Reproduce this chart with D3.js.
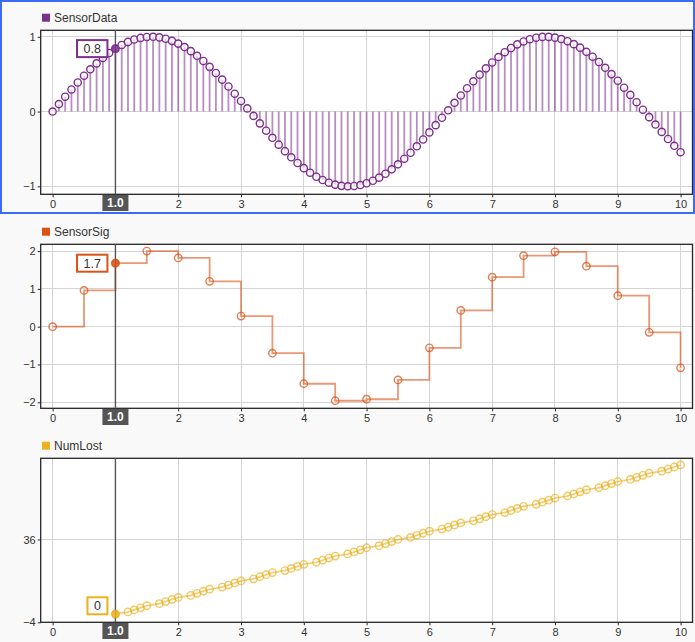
<!DOCTYPE html>
<html>
<head>
<meta charset="utf-8">
<script src="https://cdn.jsdelivr.net/npm/d3@7"></script>
<style>
html,body{margin:0;padding:0;background:#f9f9f9;}
svg{display:block;font-family:"Liberation Sans",Arial,sans-serif;}
</style>
</head>
<body>
<svg id="chart" width="695" height="642"></svg>
<script>
// ---- data ----
const sensorTime = [0,0.1,0.2,0.3,0.4,0.5,0.6,0.7,0.8,0.9,1.0,1.1,1.2,1.3,1.4,1.5,1.6,1.7,1.8,1.9,2.0,2.1,2.2,2.3,2.4,2.5,2.6,2.7,2.8,2.9,3.0,3.1,3.2,3.3,3.4,3.5,3.6,3.7,3.8,3.9,4.0,4.1,4.2,4.3,4.4,4.5,4.6,4.7,4.8,4.9,5.0,5.1,5.2,5.3,5.4,5.5,5.6,5.7,5.8,5.9,6.0,6.1,6.2,6.3,6.4,6.5,6.6,6.7,6.8,6.9,7.0,7.1,7.2,7.3,7.4,7.5,7.6,7.7,7.8,7.9,8.0,8.1,8.2,8.3,8.4,8.5,8.6,8.7,8.8,8.9,9.0,9.1,9.2,9.3,9.4,9.5,9.6,9.7,9.8,9.9,10.0];
const sensorData = [0,0.100,0.199,0.296,0.389,0.479,0.565,0.644,0.717,0.783,0.842,0.891,0.932,0.964,0.985,0.998,1.000,0.992,0.974,0.946,0.909,0.863,0.808,0.746,0.676,0.598,0.516,0.427,0.335,0.239,0.141,0.042,-0.058,-0.158,-0.256,-0.351,-0.443,-0.530,-0.612,-0.688,-0.757,-0.818,-0.872,-0.916,-0.952,-0.978,-0.994,-1.000,-0.996,-0.983,-0.959,-0.926,-0.884,-0.832,-0.773,-0.706,-0.631,-0.551,-0.465,-0.374,-0.279,-0.182,-0.083,0.017,0.117,0.215,0.312,0.405,0.494,0.578,0.657,0.729,0.794,0.850,0.899,0.938,0.968,0.988,0.999,0.999,0.989,0.970,0.941,0.902,0.855,0.799,0.734,0.663,0.585,0.501,0.412,0.319,0.223,0.125,0.025,-0.075,-0.174,-0.272,-0.367,-0.458,-0.544];

const sigTime = [0,0.5,1.0,1.5,2.0,2.5,3.0,3.5,4.0,4.5,5.0,5.5,6.0,6.5,7.0,7.5,8.0,8.5,9.0,9.5,10.0];
const sigValues = [0,0.96,1.68,2.0,1.82,1.2,0.28,-0.7,-1.51,-1.96,-1.92,-1.41,-0.56,0.43,1.31,1.88,1.98,1.6,0.82,-0.15,-1.09];

const lostTime = [1.0,1.2,1.3,1.4,1.5,1.7,1.8,1.9,2.0,2.2,2.3,2.4,2.5,2.7,2.8,2.9,3.0,3.2,3.3,3.4,3.5,3.7,3.8,3.9,4.0,4.2,4.3,4.4,4.5,4.7,4.8,4.9,5.0,5.2,5.3,5.4,5.5,5.7,5.8,5.9,6.0,6.2,6.3,6.4,6.5,6.7,6.8,6.9,7.0,7.2,7.3,7.4,7.5,7.7,7.8,7.9,8.0,8.2,8.3,8.4,8.5,8.7,8.8,8.9,9.0,9.2,9.3,9.4,9.5,9.7,9.8,9.9,10.0];
const lostValues = [0,1,2,3,4,5,6,7,8,9,10,11,12,13,14,15,16,17,18,19,20,21,22,23,24,25,26,27,28,29,30,31,32,33,34,35,36,37,38,39,40,41,42,43,44,45,46,47,48,49,50,51,52,53,54,55,56,57,58,59,60,61,62,63,64,65,66,67,68,69,70,71,72];

const xTicks = [0,1,2,3,4,5,6,7,8,9,10];
const dataTicks = [-1,0,1];
const sigTicks = [-2,-1,0,1,2];
const lostTicks = [-4,36];
const seriesNames = ["SensorData","SensorSig","NumLost"];
const seriesColors = ["#7E2F8E","#D95319","#EDB120"];
const cursorTime = 1.0;

// ---- layout ----
const W = 695, panelH = 214;
const plotL = 40.7, plotR = 692.5, plotT = 30.3, plotB = 194.3;
const svg = d3.select("#chart");

const x = d3.scaleLinear().domain([-0.19, 10.19]).range([plotL, plotR]);

const panels = [
  {name: seriesNames[0], color: seriesColors[0], domain: [-1.107, 1.087], ticks: dataTicks,
   t: sensorTime, v: sensorData, type: "stem", label: d => d3.format(".1f")(d)},
  {name: seriesNames[1], color: seriesColors[1], domain: [-2.16, 2.18], ticks: sigTicks,
   t: sigTime, v: sigValues, type: "stair", label: d => d3.format(".1f")(d)},
  {name: seriesNames[2], color: seriesColors[2], domain: [-4, 75.2], ticks: lostTicks,
   t: lostTime, v: lostValues, type: "line", label: d => d3.format("d")(d)}
];

panels.forEach((p, i) => {
  const g = svg.append("g").attr("transform", `translate(0,${i * panelH})`);
  const y = d3.scaleLinear().domain(p.domain).range([plotB, plotT]);

  // header
  g.append("rect").attr("x", 42).attr("y", 13.7).attr("width", 8).attr("height", 8).attr("fill", p.color);
  g.append("text").attr("x", 54).attr("y", 21.6).attr("font-size", 12).attr("fill", "#333").text(p.name);

  // plot background
  g.append("rect").attr("x", plotL).attr("y", plotT).attr("width", plotR - plotL).attr("height", plotB - plotT).attr("fill", "#fff");

  // grid
  g.append("g").selectAll("line").data(xTicks).join("line")
    .attr("x1", d => x(d)).attr("x2", d => x(d)).attr("y1", plotT).attr("y2", plotB)
    .attr("stroke", "#d4d4d4").attr("stroke-width", 1).attr("shape-rendering", "crispEdges");
  g.append("g").selectAll("line").data(p.ticks).join("line")
    .attr("x1", plotL).attr("x2", plotR).attr("y1", d => y(d)).attr("y2", d => y(d))
    .attr("stroke", "#d4d4d4").attr("stroke-width", 1).attr("shape-rendering", "crispEdges");

  // axes
  const xa = g.append("g").attr("transform", `translate(0,${plotB})`)
    .call(d3.axisBottom(x).tickValues(xTicks).tickSize(3).tickPadding(3).tickFormat(d3.format("d")));
  const ya = g.append("g").attr("transform", `translate(${plotL},0)`)
    .call(d3.axisLeft(y).tickValues(p.ticks).tickSize(3).tickPadding(2).tickFormat(d3.format("d")));
  [xa, ya].forEach(a => {
    a.select(".domain").remove();
    a.selectAll(".tick line").attr("stroke", "#262626");
    a.selectAll(".tick text").attr("fill", "#333").attr("font-size", 11)
      .attr("font-family", "Liberation Sans, Arial, sans-serif");
  });
  // the cursor time label covers the tick label under it
  xa.selectAll(".tick").filter(d => d === cursorTime).select("text").remove();

  // frame
  g.append("rect").attr("x", plotL).attr("y", plotT).attr("width", plotR - plotL).attr("height", plotB - plotT)
    .attr("fill", "none").attr("stroke", "#262626").attr("stroke-width", 1.3);

  const pts = p.t.map((t, k) => ({t, v: p.v[k]}));
  const clip = "clip" + i;
  g.append("clipPath").attr("id", clip).append("rect")
    .attr("x", plotL).attr("y", plotT).attr("width", plotR - plotL).attr("height", plotB - plotT);
  const dg = g.append("g").attr("clip-path", `url(#${clip})`);

  if (p.type === "stem") {
    dg.append("g").selectAll("line").data(pts).join("line")
      .attr("x1", d => x(d.t)).attr("x2", d => x(d.t)).attr("y1", y(0)).attr("y2", d => y(d.v))
      .attr("stroke", p.color).attr("stroke-opacity", 0.55).attr("stroke-width", 1.8);
    dg.append("g").selectAll("circle").data(pts).join("circle")
      .attr("cx", d => x(d.t)).attr("cy", d => y(d.v)).attr("r", 3.6)
      .attr("fill", "#fff").attr("fill-opacity", 0.6).attr("stroke", p.color).attr("stroke-width", 1.4);
  } else if (p.type === "stair") {
    dg.append("path").datum(pts)
      .attr("d", d3.line().x(d => x(d.t)).y(d => y(d.v)).curve(d3.curveStepAfter))
      .attr("fill", "none").attr("stroke", p.color).attr("stroke-opacity", 0.6).attr("stroke-width", 1.8);
    dg.append("g").selectAll("circle").data(pts).join("circle")
      .attr("cx", d => x(d.t)).attr("cy", d => y(d.v)).attr("r", 3.7)
      .attr("fill", "none").attr("stroke", p.color).attr("stroke-opacity", 0.75).attr("stroke-width", 1.4);
  } else {
    dg.append("path").datum(pts)
      .attr("d", d3.line().x(d => x(d.t)).y(d => y(d.v)))
      .attr("fill", "none").attr("stroke", p.color).attr("stroke-opacity", 0.65).attr("stroke-width", 1.6);
    dg.append("g").selectAll("circle").data(pts).join("circle")
      .attr("cx", d => x(d.t)).attr("cy", d => y(d.v)).attr("r", 3.7)
      .attr("fill", "none").attr("stroke", p.color).attr("stroke-opacity", 0.7).attr("stroke-width", 1.4);
  }

  // cursor
  const cx = x(cursorTime);
  g.append("line").attr("x1", cx).attr("x2", cx).attr("y1", plotT).attr("y2", plotB)
    .attr("stroke", "#555").attr("stroke-width", 1.4);
  const cp = pts.find(d => Math.abs(d.t - cursorTime) < 1e-9);
  g.append("circle").attr("cx", cx).attr("cy", y(cp.v)).attr("r", 3.7)
    .attr("fill", p.color).attr("fill-opacity", 0.85).attr("stroke", p.color).attr("stroke-opacity", 0.6).attr("stroke-width", 1.4);

  // value label
  const txt = p.label(cp.v);
  const tmp = g.append("text").attr("font-size", 12.5).text(txt);
  const tw = tmp.node().getComputedTextLength();
  tmp.remove();
  const bw = tw + 13, bh = 17;
  let bcy = y(cp.v);
  bcy = Math.min(bcy, plotB - 7 - bh / 2 - 1);
  bcy = Math.max(bcy, plotT + 3 + bh / 2);
  const bx = cx - 8 - bw;
  g.append("rect").attr("x", bx).attr("y", bcy - bh / 2).attr("width", bw).attr("height", bh)
    .attr("fill", "#fff").attr("stroke", p.color).attr("stroke-width", 2);
  g.append("text").attr("x", bx + bw / 2).attr("y", bcy + 4.5).attr("text-anchor", "middle")
    .attr("font-size", 12.5).attr("fill", "#333").text(txt);

  // cursor time label
  g.append("rect").attr("x", cx - 13).attr("y", plotB + 0.7).attr("width", 26).attr("height", 16)
    .attr("fill", "#555");
  g.append("text").attr("x", cx).attr("y", plotB + 13).attr("text-anchor", "middle")
    .attr("font-size", 12).attr("font-weight", "bold").attr("fill", "#fff").text(d3.format(".1f")(cursorTime));
});

// selection border on first panel
svg.append("rect").attr("x", 1).attr("y", 1).attr("width", W - 2).attr("height", panelH - 2)
  .attr("fill", "none").attr("stroke", "#3b6cf6").attr("stroke-width", 2);
</script>
</body>
</html>
